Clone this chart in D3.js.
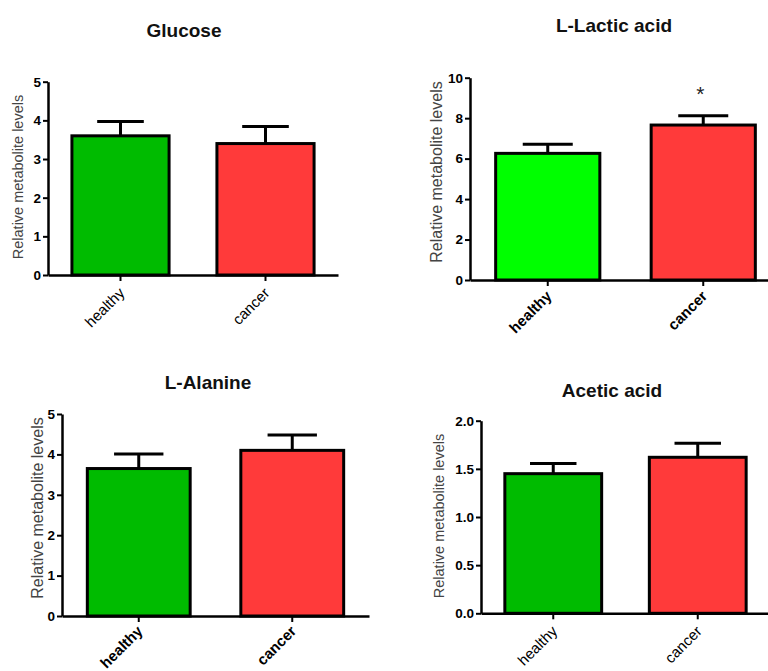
<!DOCTYPE html>
<html>
<head>
<meta charset="utf-8">
<script src="https://cdn.jsdelivr.net/npm/d3@7"></script>
<style>
  html, body { margin: 0; padding: 0; background: #fff; }
  svg { display: block; font-family: "Liberation Sans", Arial, sans-serif; }
</style>
</head>
<body>
<svg id="chart" width="768" height="671"></svg>
<script>
// ---------- data ----------
const groups = ["healthy", "cancer"];
const titles = ["Glucose", "L-Lactic acid", "L-Alanine", "Acetic acid"];
const glucoseMean = [3.60, 3.40];
const glucoseSem  = [0.37, 0.44];
const lacticMean  = [6.26, 7.66];
const lacticSem   = [0.45, 0.46];
const alanineMean = [3.65, 4.10];
const alanineSem  = [0.36, 0.38];
const aceticMean  = [1.45, 1.62];
const aceticSem   = [0.105, 0.145];
const glucoseTicks = [0, 1, 2, 3, 4, 5];
const lacticTicks  = [0, 2, 4, 6, 8, 10];
const alanineTicks = [0, 1, 2, 3, 4, 5];
const aceticTicks  = [0, 0.5, 1.0, 1.5, 2.0];
const significance = [null, ["", "*"], null, null];
const yLabel = "Relative metabolite levels";

// ---------- layout / style ----------
const panels = [
  { mean: glucoseMean, sem: glucoseSem, ticks: glucoseTicks, fmt: d3.format("d"),
    clip: [0, 0, 384, 335], x0: 48, x1: 338, yb: 275, yt: 81.7,
    titleX: 184, titleY: 37, labX: 18, labY: 177, labSize: 14.5,
    green: "#00BB00", catBold: false, catSize: 15, catDy: 19 },
  { mean: lacticMean, sem: lacticSem, ticks: lacticTicks, fmt: d3.format("d"),
    clip: [384, 0, 384, 335], x0: 470, x1: 781, yb: 280, yt: 77.7,
    titleX: 614, titleY: 32, labX: 436, labY: 172, labSize: 16,
    green: "#00FF00", catBold: true, catSize: 15, catDy: 17 },
  { mean: alanineMean, sem: alanineSem, ticks: alanineTicks, fmt: d3.format("d"),
    clip: [0, 335, 384, 336], x0: 62, x1: 369, yb: 616, yt: 414,
    titleX: 208, titleY: 389, labX: 37, labY: 508, labSize: 16,
    green: "#00BB00", catBold: true, catSize: 15, catDy: 16 },
  { mean: aceticMean, sem: aceticSem, ticks: aceticTicks, fmt: d3.format(".1f"),
    clip: [384, 335, 384, 336], x0: 481, x1: 770, yb: 613.3, yt: 420.7,
    titleX: 612, titleY: 397, labX: 439, labY: 516, labSize: 14.5,
    green: "#00BB00", catBold: false, catSize: 15, catDy: 19 }
];
const red = "#FF3A3A";

const svg = d3.select("#chart");

panels.forEach((p, i) => {
  const clipId = "clip" + i;
  svg.append("clipPath").attr("id", clipId).append("rect")
    .attr("x", p.clip[0]).attr("y", p.clip[1]).attr("width", p.clip[2]).attr("height", p.clip[3]);
  const g = svg.append("g").attr("clip-path", `url(#${clipId})`);

  const x = d3.scaleBand().domain(groups).range([p.x0, p.x1]).paddingInner(0.33).paddingOuter(0.165);
  const ymax = p.ticks[p.ticks.length - 1];
  const y = d3.scaleLinear().domain([0, ymax]).range([p.yb, p.yt]);

  // title
  g.append("text").attr("x", p.titleX).attr("y", p.titleY)
    .attr("text-anchor", "middle").attr("font-weight", "bold").attr("font-size", 19)
    .attr("fill", "#111").text(titles[i]);

  // y label
  g.append("text")
    .attr("transform", `translate(${p.labX},${p.labY}) rotate(-90)`)
    .attr("text-anchor", "middle").attr("dy", "0.35em")
    .attr("font-size", p.labSize).attr("fill", "#444").text(yLabel);

  const data = groups.map((k, j) => ({ k, m: p.mean[j], s: p.sem[j], j }));

  // error bars
  const eb = g.append("g");
  data.forEach(d => {
    const cx = x(d.k) + x.bandwidth() / 2;
    const half = x.bandwidth() * 0.24;
    eb.append("line").attr("x1", cx).attr("x2", cx).attr("y1", y(d.m)).attr("y2", y(d.m + d.s))
      .attr("stroke", "#000").attr("stroke-width", 3);
    eb.append("line").attr("x1", cx - half).attr("x2", cx + half)
      .attr("y1", y(d.m + d.s)).attr("y2", y(d.m + d.s))
      .attr("stroke", "#000").attr("stroke-width", 3);
  });

  // bars
  g.selectAll("rect.bar").data(data).join("rect").attr("class", "bar")
    .attr("x", d => x(d.k)).attr("width", x.bandwidth())
    .attr("y", d => y(d.m)).attr("height", d => y(0) - y(d.m))
    .attr("fill", d => d.j === 0 ? p.green : red)
    .attr("stroke", "#000").attr("stroke-width", 3);

  // significance marks
  if (significance[i]) {
    data.forEach(d => {
      const s = significance[i][d.j];
      if (!s) return;
      g.append("text").attr("x", x(d.k) + x.bandwidth() / 2 - 3)
        .attr("y", y(d.m + d.s) - 15)
        .attr("text-anchor", "middle").attr("font-size", 21).attr("fill", "#222").text(s);
    });
  }

  // y axis
  const ya = g.append("g").attr("transform", `translate(${p.x0},0)`)
    .call(d3.axisLeft(y).tickValues(p.ticks).tickFormat(p.fmt).tickSize(5).tickSizeOuter(0).tickPadding(2));
  ya.select(".domain").attr("stroke-width", 2.5);
  ya.selectAll(".tick line").attr("stroke-width", 2);
  ya.selectAll(".tick text").attr("font-size", 13.5).attr("font-weight", "bold").attr("fill", "#000")
    .attr("font-family", "'Liberation Sans', Arial, sans-serif");

  // x axis
  const xa = g.append("g").attr("transform", `translate(0,${p.yb})`)
    .call(d3.axisBottom(x).tickSize(6).tickSizeOuter(0));
  xa.select(".domain").attr("stroke-width", 2.5);
  xa.selectAll(".tick line").attr("stroke-width", 2);
  xa.selectAll(".tick text")
    .attr("font-size", p.catSize).attr("font-weight", p.catBold ? "bold" : "normal").attr("fill", "#000")
    .attr("font-family", "'Liberation Sans', Arial, sans-serif")
    .attr("text-anchor", "end").attr("dy", null).attr("y", null)
    .attr("transform", `translate(5,${p.catDy}) rotate(-45)`);
});
</script>
</body>
</html>
